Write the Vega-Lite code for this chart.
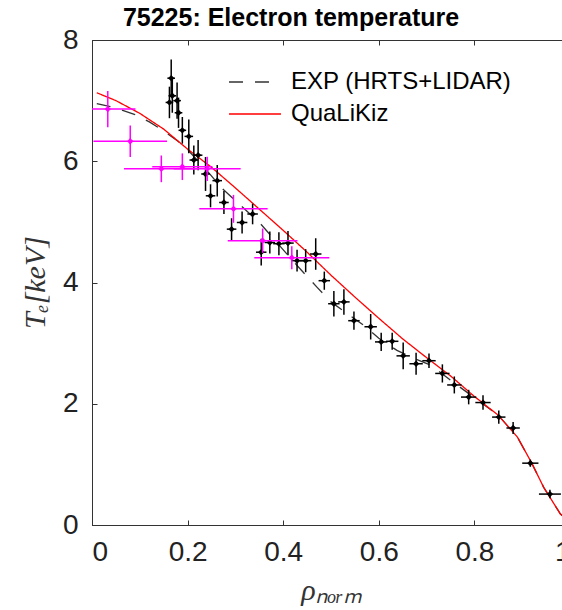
{
  "$schema": "https://vega.github.io/schema/vega-lite/v6.json",
  "width": 478,
  "height": 485,
  "autosize": "none",
  "padding": {"left": 92, "top": 40, "right": 0, "bottom": 85},
  "title": {
    "text": "75225: Electron temperature",
    "font": "Liberation Sans",
    "fontSize": 25,
    "fontWeight": "bold",
    "color": "#000000",
    "anchor": "middle",
    "frame": "group",
    "dx": -40,
    "offset": -25,
    "baseline": "alphabetic"
  },
  "datasets": {
    "lines": [
      {"series": "EXP (HRTS+LIDAR)", "rho": 0.01, "te": 6.95},
      {"series": "EXP (HRTS+LIDAR)", "rho": 0.05, "te": 6.88},
      {"series": "EXP (HRTS+LIDAR)", "rho": 0.09, "te": 6.77},
      {"series": "EXP (HRTS+LIDAR)", "rho": 0.12, "te": 6.65},
      {"series": "EXP (HRTS+LIDAR)", "rho": 0.15, "te": 6.5},
      {"series": "EXP (HRTS+LIDAR)", "rho": 0.18, "te": 6.33},
      {"series": "EXP (HRTS+LIDAR)", "rho": 0.206, "te": 6.14},
      {"series": "EXP (HRTS+LIDAR)", "rho": 0.24, "te": 5.85},
      {"series": "EXP (HRTS+LIDAR)", "rho": 0.27, "te": 5.57},
      {"series": "EXP (HRTS+LIDAR)", "rho": 0.307, "te": 5.3},
      {"series": "EXP (HRTS+LIDAR)", "rho": 0.3525, "te": 4.97},
      {"series": "EXP (HRTS+LIDAR)", "rho": 0.391, "te": 4.62},
      {"series": "EXP (HRTS+LIDAR)", "rho": 0.429, "te": 4.28},
      {"series": "EXP (HRTS+LIDAR)", "rho": 0.471, "te": 3.92},
      {"series": "EXP (HRTS+LIDAR)", "rho": 0.5, "te": 3.68},
      {"series": "EXP (HRTS+LIDAR)", "rho": 0.569, "te": 3.29},
      {"series": "EXP (HRTS+LIDAR)", "rho": 0.6, "te": 3.08},
      {"series": "EXP (HRTS+LIDAR)", "rho": 0.638, "te": 2.88},
      {"series": "EXP (HRTS+LIDAR)", "rho": 0.67, "te": 2.76},
      {"series": "EXP (HRTS+LIDAR)", "rho": 0.708, "te": 2.64},
      {"series": "EXP (HRTS+LIDAR)", "rho": 0.76, "te": 2.33},
      {"series": "EXP (HRTS+LIDAR)", "rho": 0.8, "te": 2.1},
      {"series": "EXP (HRTS+LIDAR)", "rho": 0.85, "te": 1.81},
      {"series": "EXP (HRTS+LIDAR)", "rho": 0.89, "te": 1.45},
      {"series": "EXP (HRTS+LIDAR)", "rho": 0.92, "te": 1.02},
      {"series": "EXP (HRTS+LIDAR)", "rho": 0.945, "te": 0.62},
      {"series": "EXP (HRTS+LIDAR)", "rho": 0.98, "te": 0.18},
      {"series": "EXP (HRTS+LIDAR)", "rho": 1.0, "te": 0.05},
      {"series": "QuaLiKiz", "rho": 0.01, "te": 7.13},
      {"series": "QuaLiKiz", "rho": 0.05, "te": 7.0},
      {"series": "QuaLiKiz", "rho": 0.1, "te": 6.79},
      {"series": "QuaLiKiz", "rho": 0.15, "te": 6.53},
      {"series": "QuaLiKiz", "rho": 0.2, "te": 6.2},
      {"series": "QuaLiKiz", "rho": 0.25, "te": 5.9},
      {"series": "QuaLiKiz", "rho": 0.3, "te": 5.56},
      {"series": "QuaLiKiz", "rho": 0.35, "te": 5.21},
      {"series": "QuaLiKiz", "rho": 0.4, "te": 4.86},
      {"series": "QuaLiKiz", "rho": 0.45, "te": 4.5},
      {"series": "QuaLiKiz", "rho": 0.5, "te": 4.12},
      {"series": "QuaLiKiz", "rho": 0.55, "te": 3.76},
      {"series": "QuaLiKiz", "rho": 0.6, "te": 3.41},
      {"series": "QuaLiKiz", "rho": 0.65, "te": 3.07},
      {"series": "QuaLiKiz", "rho": 0.7, "te": 2.76},
      {"series": "QuaLiKiz", "rho": 0.75, "te": 2.46},
      {"series": "QuaLiKiz", "rho": 0.8, "te": 2.12},
      {"series": "QuaLiKiz", "rho": 0.85, "te": 1.81},
      {"series": "QuaLiKiz", "rho": 0.89, "te": 1.45},
      {"series": "QuaLiKiz", "rho": 0.92, "te": 1.02},
      {"series": "QuaLiKiz", "rho": 0.945, "te": 0.62},
      {"series": "QuaLiKiz", "rho": 0.98, "te": 0.18},
      {"series": "QuaLiKiz", "rho": 1.0, "te": 0.05}
    ],
    "hrts": [
      {"rho": 0.1657, "te": 7.37, "xe": 0.008, "ye": 0.31},
      {"rho": 0.168, "te": 7.08, "xe": 0.008, "ye": 0.28},
      {"rho": 0.178, "te": 7.0, "xe": 0.008, "ye": 0.3},
      {"rho": 0.162, "te": 6.97, "xe": 0.008, "ye": 0.26},
      {"rho": 0.181, "te": 6.8, "xe": 0.008, "ye": 0.25},
      {"rho": 0.189, "te": 6.51, "xe": 0.008, "ye": 0.22},
      {"rho": 0.2025, "te": 6.41, "xe": 0.009, "ye": 0.28},
      {"rho": 0.213, "te": 6.02, "xe": 0.009, "ye": 0.24},
      {"rho": 0.222, "te": 6.1, "xe": 0.009, "ye": 0.25},
      {"rho": 0.2375, "te": 5.79, "xe": 0.009, "ye": 0.28},
      {"rho": 0.248, "te": 5.43, "xe": 0.01, "ye": 0.19},
      {"rho": 0.262, "te": 5.68, "xe": 0.01, "ye": 0.26},
      {"rho": 0.276, "te": 5.32, "xe": 0.01, "ye": 0.19},
      {"rho": 0.292, "te": 4.88, "xe": 0.01, "ye": 0.18},
      {"rho": 0.314, "te": 4.99, "xe": 0.011, "ye": 0.18},
      {"rho": 0.336, "te": 5.13, "xe": 0.011, "ye": 0.17},
      {"rho": 0.354, "te": 4.5, "xe": 0.011, "ye": 0.22},
      {"rho": 0.372, "te": 4.66, "xe": 0.011, "ye": 0.18},
      {"rho": 0.391, "te": 4.64, "xe": 0.012, "ye": 0.19},
      {"rho": 0.41, "te": 4.65, "xe": 0.012, "ye": 0.2},
      {"rho": 0.429, "te": 4.36, "xe": 0.012, "ye": 0.18},
      {"rho": 0.447, "te": 4.36, "xe": 0.012, "ye": 0.19},
      {"rho": 0.468, "te": 4.47, "xe": 0.012, "ye": 0.26},
      {"rho": 0.486, "te": 4.03, "xe": 0.012, "ye": 0.15},
      {"rho": 0.506, "te": 3.65, "xe": 0.012, "ye": 0.21},
      {"rho": 0.527, "te": 3.68, "xe": 0.012, "ye": 0.21},
      {"rho": 0.548, "te": 3.37, "xe": 0.012, "ye": 0.15},
      {"rho": 0.583, "te": 3.27, "xe": 0.013, "ye": 0.21},
      {"rho": 0.605, "te": 3.02, "xe": 0.013, "ye": 0.15},
      {"rho": 0.628, "te": 3.03, "xe": 0.013, "ye": 0.14},
      {"rho": 0.651, "te": 2.79, "xe": 0.014, "ye": 0.22},
      {"rho": 0.678, "te": 2.66, "xe": 0.014, "ye": 0.18},
      {"rho": 0.705, "te": 2.71, "xe": 0.014, "ye": 0.12},
      {"rho": 0.733, "te": 2.5, "xe": 0.015, "ye": 0.15},
      {"rho": 0.758, "te": 2.31, "xe": 0.015, "ye": 0.14},
      {"rho": 0.788, "te": 2.11, "xe": 0.016, "ye": 0.12},
      {"rho": 0.818, "te": 2.02, "xe": 0.016, "ye": 0.12},
      {"rho": 0.851, "te": 1.78, "xe": 0.014, "ye": 0.11},
      {"rho": 0.881, "te": 1.6, "xe": 0.014, "ye": 0.1},
      {"rho": 0.917, "te": 1.02, "xe": 0.017, "ye": 0.06},
      {"rho": 0.958, "te": 0.51, "xe": 0.023, "ye": 0.07}
    ],
    "lidar": [
      {"rho": 0.033, "te": 6.86, "xe": 0.058, "ye": 0.3},
      {"rho": 0.08, "te": 6.33, "xe": 0.077, "ye": 0.26},
      {"rho": 0.145, "te": 5.875, "xe": 0.078, "ye": 0.22},
      {"rho": 0.189, "te": 5.91, "xe": 0.063, "ye": 0.22},
      {"rho": 0.241, "te": 5.875, "xe": 0.07, "ye": 0.2},
      {"rho": 0.296, "te": 5.215, "xe": 0.0715, "ye": 0.23},
      {"rho": 0.357, "te": 4.69, "xe": 0.073, "ye": 0.2},
      {"rho": 0.418, "te": 4.41, "xe": 0.0785, "ye": 0.19}
    ]
  },
  "layer": [
    {
      "data": {"name": "lines"},
      "mark": {"type": "line", "strokeWidth": 1.3, "clip": true},
      "encoding": {
        "x": {
          "field": "rho", "type": "quantitative",
          "scale": {"domain": [0, 1], "nice": false, "zero": false},
          "axis": {
            "orient": "bottom",
            "values": [0, 0.2, 0.4, 0.6, 0.8, 1],
            "format": "~g",
            "title": "ρₙₒᵣₘ",
            "titleX": 239,
            "titleY": 65,
            "titleBaseline": "middle",
            "titleAlign": "center",
            "labelPadding": 18
          }
        },
        "y": {
          "field": "te", "type": "quantitative",
          "scale": {"domain": [0, 8], "nice": false},
          "axis": {
            "orient": "left",
            "values": [0, 2, 4, 6, 8],
            "title": "Tₑ[keV]",
            "titleX": -57,
            "titleY": 242,
            "titleAngle": -90,
            "titleBaseline": "middle",
            "titleAlign": "center",
            "labelPadding": 19
          }
        },
        "color": {
          "field": "series", "type": "nominal",
          "scale": {"domain": ["EXP (HRTS+LIDAR)", "QuaLiKiz"], "range": ["#333333", "#ff0000"]},
          "legend": {
            "orient": "none", "legendX": 136, "legendY": 30, "title": null,
            "symbolType": "stroke", "symbolSize": 2700, "symbolStrokeWidth": 1.3,
            "labelFont": "Liberation Sans", "labelFontSize": 24, "labelColor": "#000000",
            "labelLimit": 400, "clipHeight": 24,
            "labelOffset": 9, "rowPadding": 8, "padding": 0
          }
        },
        "strokeDash": {
          "field": "series", "type": "nominal",
          "scale": {"domain": ["EXP (HRTS+LIDAR)", "QuaLiKiz"], "range": [[14, 12], [1, 0]]},
          "legend": {
            "orient": "none", "legendX": 136, "legendY": 30, "title": null,
            "symbolType": "stroke", "symbolSize": 2700, "symbolStrokeWidth": 1.3,
            "labelFont": "Liberation Sans", "labelFontSize": 24, "labelColor": "#000000",
            "labelLimit": 400, "clipHeight": 24,
            "labelOffset": 9, "rowPadding": 8, "padding": 0
          }
        }
      }
    },
    {
      "data": {"name": "hrts"},
      "mark": {"type": "errorbar", "color": "#000000", "thickness": 1.5, "clip": true},
      "encoding": {
        "x": {"field": "rho", "type": "quantitative", "axis": {"orient": "top", "labels": false, "title": null, "domain": false, "values": [0, 0.2, 0.4, 0.6, 0.8, 1]}},
        "xError": {"field": "xe"},
        "y": {"field": "te", "type": "quantitative", "axis": null}
      }
    },
    {
      "data": {"name": "hrts"},
      "mark": {"type": "errorbar", "color": "#000000", "thickness": 1.5, "clip": true},
      "encoding": {
        "x": {"field": "rho", "type": "quantitative", "axis": null},
        "y": {"field": "te", "type": "quantitative", "axis": null},
        "yError": {"field": "ye"}
      }
    },
    {
      "data": {"name": "hrts"},
      "mark": {"type": "point", "shape": "diamond", "filled": true, "color": "#000000", "size": 40, "opacity": 1},
      "encoding": {
        "x": {"field": "rho", "type": "quantitative", "axis": null},
        "y": {"field": "te", "type": "quantitative", "axis": null}
      }
    },
    {
      "data": {"name": "lidar"},
      "mark": {"type": "errorbar", "color": "#ff00ff", "thickness": 1.5, "clip": true},
      "encoding": {
        "x": {"field": "rho", "type": "quantitative", "axis": null},
        "xError": {"field": "xe"},
        "y": {"field": "te", "type": "quantitative", "axis": null}
      }
    },
    {
      "data": {"name": "lidar"},
      "mark": {"type": "errorbar", "color": "#ff00ff", "thickness": 1.5, "clip": true},
      "encoding": {
        "x": {"field": "rho", "type": "quantitative", "axis": null},
        "y": {"field": "te", "type": "quantitative", "axis": null},
        "yError": {"field": "ye"}
      }
    },
    {
      "data": {"name": "lidar"},
      "mark": {"type": "point", "shape": "diamond", "filled": true, "color": "#ff00ff", "size": 40, "opacity": 1},
      "encoding": {
        "x": {"field": "rho", "type": "quantitative", "axis": null},
        "y": {"field": "te", "type": "quantitative", "axis": null}
      }
    }
  ],
  "resolve": {"axis": {"x": "independent", "y": "independent"}},
  "config": {
    "view": {"stroke": "#333333", "strokeWidth": 1},
    "axis": {
      "grid": false,
      "domainColor": "#333333",
      "tickColor": "#333333",
      "tickSize": -5,
      "labelFont": "Liberation Sans",
      "labelFontSize": 28,
      "labelColor": "#222222",
      "titleFont": "Liberation Serif",
      "titleFontStyle": "italic",
      "titleFontWeight": "normal",
      "titleFontSize": 30,
      "titleColor": "#333333"
    }
  }
}
